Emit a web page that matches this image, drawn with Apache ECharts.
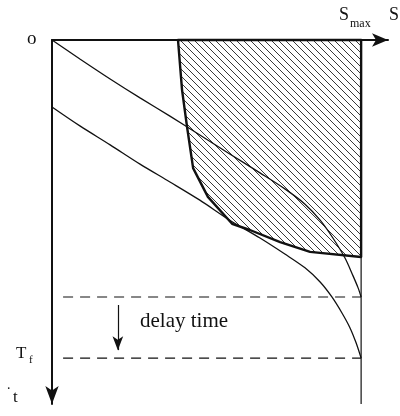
<!DOCTYPE html>
<html>
<head>
<meta charset="utf-8">
<script src="https://cdn.jsdelivr.net/npm/echarts@6/dist/echarts.min.js"></script>
<style>
html, body { margin: 0; padding: 0; background: #fff; }
#chart { width: 400px; height: 416px; }
</style>
</head>
<body>
<div id="chart"></div>
<script>
// S runs right (0..100), t runs down (0..100)
const sMax = 92
const tDelay = 70.6
const tFinal = 87.4

// trajectory that starts at o and hits S_max when the delay starts
const curveUpper = [
  [0, 0], [8.3, 5.2], [17.3, 10.7], [26.2, 15.9], [35.1, 20.9], [44.0, 26.1],
  [52.9, 31.3], [61.9, 36.5], [69.3, 40.9], [75.3, 45.1], [79.8, 49.5],
  [83.6, 54.4], [87.2, 59.9], [89.6, 64.8], [91.1, 68.1], [92.0, 70.6]
]

// trajectory that hits S_max at T_f
const curveLower = [
  [0, 18.4], [8.3, 23.6], [17.3, 28.8], [26.2, 34.1], [35.1, 39.0], [44.0, 44.0],
  [52.9, 49.5], [61.9, 54.4], [69.3, 58.8], [75.3, 62.6], [79.8, 66.5],
  [83.3, 70.6], [86.3, 75.0], [88.7, 79.1], [90.5, 83.2], [92.0, 87.4]
]

// outline of the hatched region
const hatchedRegion = [
  [37.5, 0], [38.7, 13.7], [40.2, 23.9], [42.0, 35.2], [46.4, 43.1], [53.6, 50.5],
  [58.9, 52.2], [67.9, 55.5], [76.8, 58.2], [92.0, 59.6], [92.0, 0]
]

const dashStartS = 3.3
const delayArrow = [[19.6, 72.8], [19.6, 85.2]]

const ink = '#111'

// diagonal hatching "\\\" as a repeating canvas pattern
function makeHatch() {
  const c = document.createElement('canvas')
  c.width = 7
  c.height = 7
  const ctx = c.getContext('2d')
  ctx.strokeStyle = '#222'
  ctx.lineWidth = 0.9
  ctx.beginPath()
  ctx.moveTo(-1, -1); ctx.lineTo(8, 8)
  ctx.moveTo(-1, 6); ctx.lineTo(1, 8)
  ctx.moveTo(6, -1); ctx.lineTo(8, 1)
  ctx.stroke()
  return c
}
const hatch = makeHatch()

const chart = echarts.init(document.getElementById('chart'))

const axisLine = (symbol, size) => ({
  onZero: false,
  symbol: symbol,
  symbolSize: size,
  lineStyle: { color: ink, width: 2 }
})

const serif = '"Liberation Serif", "DejaVu Serif", serif'

const option = {
  animation: false,
  backgroundColor: '#fff',
  grid: { left: 52, top: 40, width: 336, height: 364 },
  xAxis: {
    type: 'value', position: 'top', min: 0, max: 100,
    axisLine: axisLine(['none', 'arrow'], [10, 16]),
    axisTick: { show: false }, axisLabel: { show: false }, splitLine: { show: false }
  },
  yAxis: {
    type: 'value', inverse: true, min: 0, max: 100,
    // inverted axis: the arrow belongs at the bottom
    axisLine: axisLine(['arrow', 'none'], [10, 18]),
    axisTick: { show: false }, axisLabel: { show: false }, splitLine: { show: false }
  },
  series: [
    {
      type: 'custom',
      data: [0],
      z: 1,
      renderItem: (params, api) => ({
        type: 'polygon',
        shape: { points: hatchedRegion.map(p => api.coord(p)) },
        style: { fill: { image: hatch, repeat: 'repeat' }, stroke: ink, lineWidth: 2.4, lineJoin: 'round' }
      })
    },
    {
      type: 'line', data: curveUpper, smooth: 0.3, symbol: 'none',
      lineStyle: { color: ink, width: 1.3 }, z: 3
    },
    {
      type: 'line', data: curveLower, smooth: 0.3, symbol: 'none',
      lineStyle: { color: ink, width: 1.3 }, z: 3
    },
    {
      type: 'line', data: [[sMax, 0], [sMax, 100]], symbol: 'none', clip: false,
      lineStyle: { color: ink, width: 1.2 }, z: 2,
      markLine: {
        silent: true,
        symbol: ['none', 'arrow'],
        symbolSize: [8, 14],
        label: { show: false },
        lineStyle: { color: ink, width: 1.2, type: 'solid' },
        data: [[{ coord: delayArrow[0] }, { coord: delayArrow[1] }]]
      }
    },
    {
      type: 'line', data: [[dashStartS, tDelay], [sMax, tDelay]], symbol: 'none',
      lineStyle: { color: ink, width: 1.2, type: [10, 7] }, z: 2
    },
    {
      type: 'line', data: [[dashStartS, tFinal], [sMax, tFinal]], symbol: 'none',
      lineStyle: { color: ink, width: 1.2, type: [10, 7] }, z: 2
    }
  ],
  graphic: [
    { type: 'text', x: 27, y: 30, style: { text: 'o', font: '19px ' + serif, fill: ink } },
    { type: 'text', x: 339, y: 6, style: { text: 'S', font: '18px ' + serif, fill: ink } },
    { type: 'text', x: 350, y: 18, style: { text: 'max', font: '12px ' + serif, fill: ink } },
    { type: 'text', x: 389, y: 6, style: { text: 'S', font: '18px ' + serif, fill: ink } },
    { type: 'text', x: 16, y: 345, style: { text: 'T', font: '17px ' + serif, fill: ink } },
    { type: 'text', x: 29, y: 355, style: { text: 'f', font: '11px ' + serif, fill: ink } },
    { type: 'text', x: 6, y: 386, style: { text: '\u02d9', font: '16px ' + serif, fill: ink } },
    { type: 'text', x: 13, y: 389, style: { text: 't', font: '17px ' + serif, fill: ink } },
    { type: 'text', x: 140, y: 311, style: { text: 'delay time', font: '21px ' + serif, fill: ink } }
  ]
}

chart.setOption(option)
</script>
</body>
</html>
